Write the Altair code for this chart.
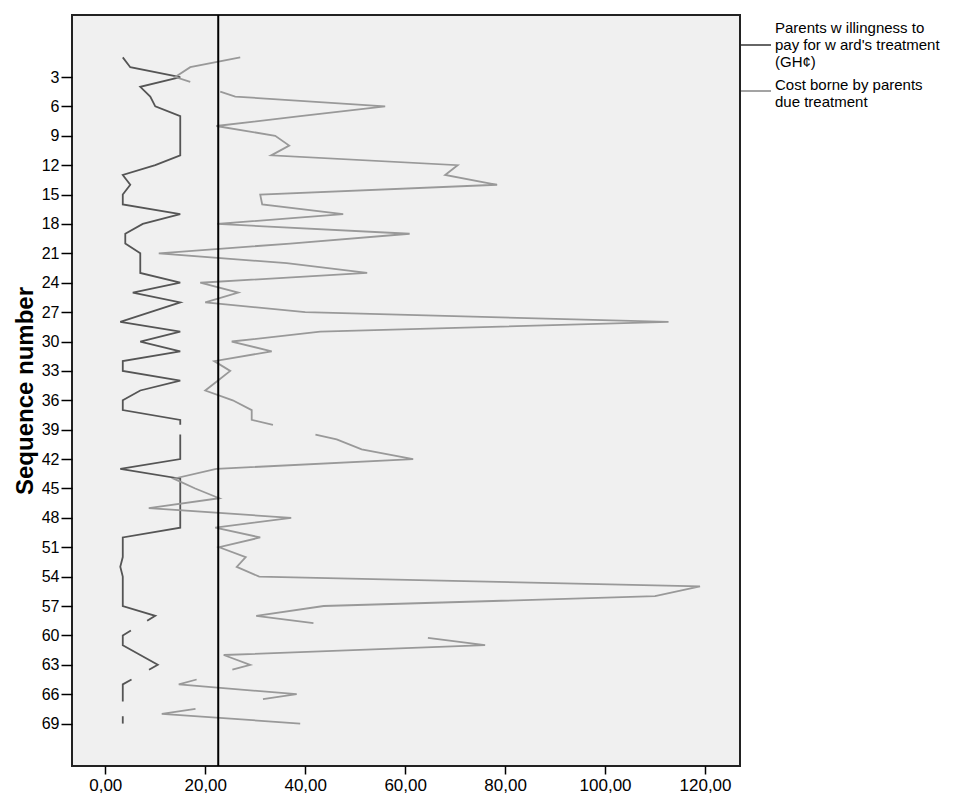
import altair as alt
import pandas as pd

# ---------------- data ----------------
seq = list(range(1, 70))

willingness = [3.5, 5, 15, 7, 9, 10, 15, 15, 15, 15,
               15, 10, 3.5, 5, 3.5, 3.5, 15, 7.5, 4, 4,
               7, 7, 7, 15, 5.5, 15, 9, 3, 15, 7,
               15, 3.5, 3.5, 15, 7, 3.5, 3.5, 15, None, 15,
               15, 15, 3, 15, 15, 15, 15, 15, 15, 3.5,
               3.5, 3.5, 3, 3.5, 3.5, 3.5, 3.5, 10, None, 3.5,
               3.5, 7, 10.5, None, 3.5, 3.5, None, None, 3.5]

cost = [27, 17, 14, None, 26, 56, 39, 22.2, 34, 36.8,
        33.2, 70.5, 68, 78.4, 31, 31.4, 47.6, 22.4, 60.9, 37,
        10.7, 36.3, 52.4, 19, 26.6, 20, 40, 112.7, 43, 25.3,
        33.3, 21.8, 25, 22.5, 20, 25.5, 29.3, 29.3, None, 46.3,
        51.3, 61.6, 22.2, 13.7, 18, 22.8, 8.7, 37.2, 22, 31,
        22.8, 28.1, 26.3, 30.8, 119, 110, 43.7, 30.2, None, None,
        76, 23.7, 29, None, 14.7, 38.3, None, 11.3, 39]

series_names = ["Parents willingness to pay for ward's treatment (GH¢)",
                "Cost borne by parents due treatment"]
legend_labels = ["Parents w illingness to\npay for w ard's treatment\n(GH¢)",
                 "Cost borne by parents\ndue treatment"]
series_colors = ["#555555", "#999999"]
reference_value = [22.6]
x_ticks = [0, 20, 40, 60, 80, 100, 120]
y_ticks = list(range(3, 70, 3))
x_domain = [-6.66, 127]
y_domain = [-3.33, 73.33]


def polylines(values, frac=0.25):
    """SPSS-like rendering: across missing cases only the outer quarters
    of the connecting segment are drawn."""
    pts = [(s, v) for s, v in zip(seq, values) if v is not None]
    out = []
    cur = [pts[0]]
    for (s0, v0), (s1, v1) in zip(pts[:-1], pts[1:]):
        if s1 - s0 == 1:
            cur.append((s1, v1))
        else:
            cur.append((s0 + (s1 - s0) * frac, v0 + (v1 - v0) * frac))
            out.append(cur)
            cur = [(s1 - (s1 - s0) * frac, v1 - (v1 - v0) * frac), (s1, v1)]
    out.append(cur)
    return out


rows = []
for name, vals in zip(series_names, [willingness, cost]):
    for pid, line in enumerate(polylines(vals)):
        for k, (s, v) in enumerate(line):
            rows.append({"series": name, "part": f"{name}-{pid}",
                         "order": k, "seq": s, "value": v})
df = pd.DataFrame(rows)

W, H = 668, 751
FONT = "Liberation Sans"

xscale = alt.Scale(domain=x_domain, nice=False, zero=False)
yscale = alt.Scale(domain=y_domain, nice=False, zero=False, reverse=True)
cscale = alt.Scale(domain=series_names, range=series_colors)

lines = alt.Chart(df).mark_line(strokeWidth=1.8).encode(
    x=alt.X("value:Q", scale=xscale,
            axis=alt.Axis(values=x_ticks, title=None, tickSize=8, labelPadding=3,
                          labelFontSize=17,
                          labelExpr="replace(format(datum.value, '.2f'), '.', ',')")),
    y=alt.Y("seq:Q", scale=yscale,
            axis=alt.Axis(values=y_ticks, title="Sequence number", tickSize=11,
                          labelPadding=2, labelFontSize=16,
                          titleFontSize=24, titleFontWeight="bold",
                          titleAngle=270, titleX=-40, titleY=H / 2,
                          titleAlign="center", titleBaseline="alphabetic")),
    color=alt.Color("series:N", scale=cscale, legend=None),
    detail="part:N",
    order="order:Q",
)

ref = alt.Chart(pd.DataFrame({"ref": reference_value})).mark_rule(
    color="#000000", strokeWidth=2).encode(x=alt.X("ref:Q", scale=xscale))

leg_df = pd.DataFrame({"series": series_names, "label": legend_labels})
leg_layers = []
for i, (ly, ty) in enumerate([(30, 18), (76, 75)]):
    d = leg_df.iloc[[i]]
    leg_layers.append(alt.Chart(d).mark_rule(strokeWidth=1.8).encode(
        x=alt.value(669), x2=alt.value(699), y=alt.value(ly),
        color=alt.Color("series:N", scale=cscale, legend=None)))
    leg_layers.append(alt.Chart(d).mark_text(
        align="left", baseline="alphabetic", lineBreak="\n", lineHeight=17,
        fontSize=15, font=FONT, color="#000000").encode(
        x=alt.value(703), y=alt.value(ty), text="label:N"))

chart = alt.layer(lines, ref, *leg_layers).properties(
    width=W, height=H,
    padding={"left": 72, "top": 15, "right": 238, "bottom": 32},
    autosize=alt.AutoSizeParams(type="none"),
    background="#FFFFFF",
).configure_view(
    fill="#F0F0F0", stroke="#222222", strokeWidth=2
).configure_axis(
    labelFont=FONT, titleFont=FONT, labelColor="#000000",
    titleColor="#000000", tickColor="#000000", tickWidth=1.5,
    domain=False, grid=False
)

chart.save("out.html", embed_options={"renderer": "svg", "actions": False})
